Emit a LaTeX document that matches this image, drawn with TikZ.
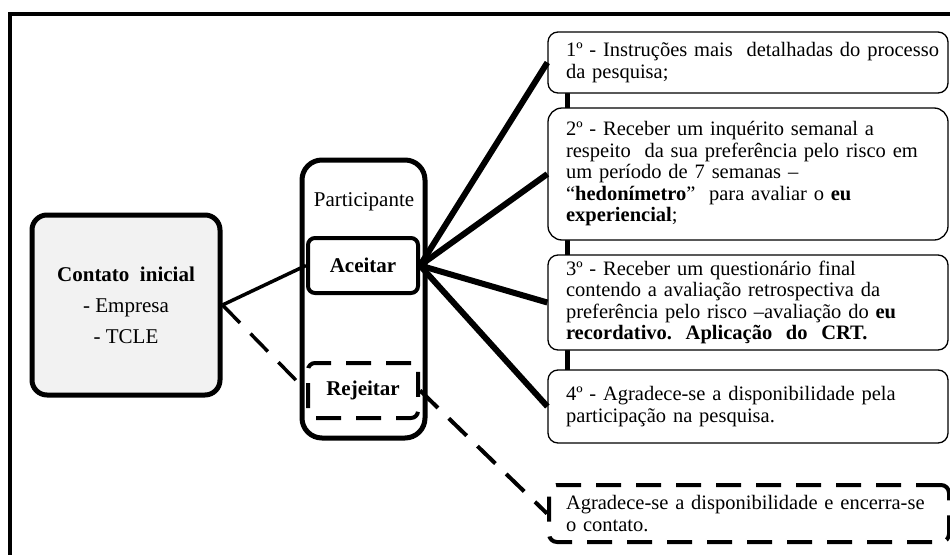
\documentclass[tikz,border=0pt]{standalone}
\usepackage{fontspec}
\setmainfont{Liberation Serif}
\newcommand{\oneline}[1]{\mbox{#1}}
\begin{document}
\begin{tikzpicture}[x=1pt,y=-1pt,
  bigbox/.style={draw, line width=5, rounded corners=15, fill=gray!10, minimum width=188, minimum height=180, align=center, font=\fontsize{21}{31}\selectfont},
  partbox/.style={draw, line width=5, rounded corners=20, minimum width=123, minimum height=278},
  choicebox/.style={draw, line width=4, rounded corners=7, minimum width=110, minimum height=55, font=\fontsize{21}{25}\selectfont\bfseries, fill=white},
  stepbox/.style={draw, line width=1.3, rounded corners=10, fill=white, minimum width=400, text width=364, inner xsep=18, align=left, font=\fontsize{20.5}{21.5}\selectfont},
  dashline/.style={dash pattern=on 25 off 15},
  link/.style={line width=6},
  thinlink/.style={line width=3.5}
]
\useasboundingbox (0,0) rectangle (950,554);
\begin{scope}
  \clip (0,0) rectangle (950,554);
  \draw[line width=4] (10,620) -- (10,14) -- (1000,14);
\end{scope}

% spine behind step boxes
\coordinate (spinetop) at (567,93);
\coordinate (spinebot) at (567,370);
\draw[line width=5] (spinetop) -- (spinebot);

% left
\node[bigbox] (contato) at (126,305) {\textbf{Contato\ \ inicial}\\- Empresa\\- TCLE};
\node[partbox] (part) at (363.5,299) {};
\node[font=\fontsize{21}{25}\selectfont] (ptitle) at (364,202) {Participante};
\node[choicebox] (acc) at (363,265.5) {Aceitar};
\node[choicebox, dashline] (rej) at (363,390.5) {Rejeitar};

% right boxes
\node[stepbox, minimum height=61] (s1) at (748,62.5) {\oneline{1º - Instruções mais\ \ detalhadas do processo}\\da pesquisa;};
\node[stepbox, minimum height=132, rounded corners=14] (s2) at (748,174) {\oneline{2º - Receber um inquérito semanal a}\\\oneline{respeito\ \ da sua preferência pelo risco em}\\\oneline{um período de 7 semanas –}\\\oneline{“\textbf{hedonímetro}”\ \ para avaliar o \textbf{eu}}\\\textbf{experiencial};};
\node[stepbox, minimum height=95] (s3) at (748,302.5) {\oneline{3º - Receber um questionário final}\\\oneline{contendo a avaliação retrospectiva da}\\\oneline{preferência pelo risco –avaliação do \textbf{eu}}\\\oneline{\textbf{recordativo.\ \ Aplicação\ \ do\ \ CRT.}}};
\node[stepbox, minimum height=73] (s4) at (748,406.5) {\oneline{4º - Agradece-se a disponibilidade pela}\\\oneline{participação na pesquisa.}};
\node[stepbox, minimum height=57, line width=4, dashline, rounded corners=8, text width=366, inner xsep=17] (s5) at (749,513.5) {\oneline{Agradece-se a disponibilidade e encerra-se}\\o contato.};

% connectors
\draw[thinlink] (contato.east) -- (acc.west);
\draw[thinlink, dashline] (contato.east) -- (rej.west);
\foreach \t in {s1,s2,s3,s4} \draw[link] (acc.east) -- (\t.west);
\draw[thinlink, line width=4, dashline] (rej.east) -- (s5.west);
\end{tikzpicture}
\end{document}
